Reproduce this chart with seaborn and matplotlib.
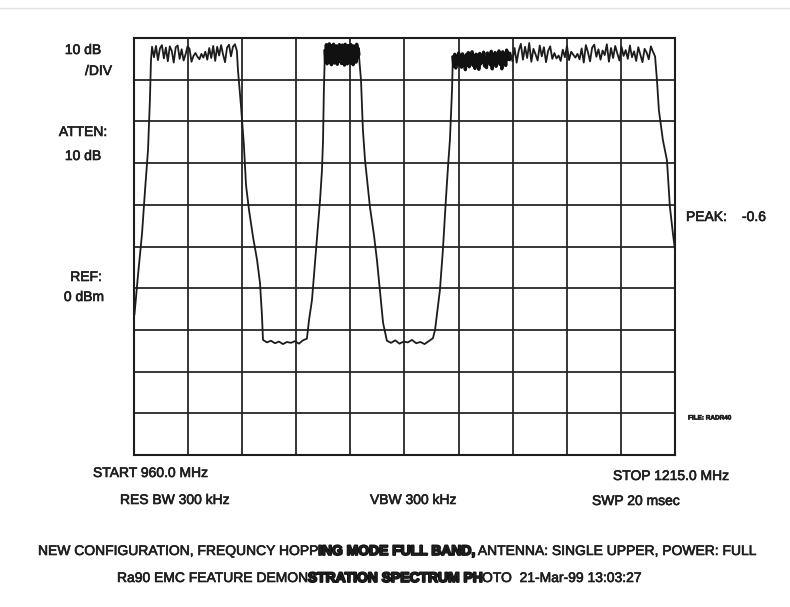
import numpy as np
import pandas as pd
import matplotlib
matplotlib.use("Agg")
import matplotlib.pyplot as plt
import matplotlib.patheffects as pe
import seaborn as sns
from matplotlib.lines import Line2D

# sweep settings (MHz, dBm)
start_mhz = 960.0
stop_mhz = 1215.0
ref_dbm = 0.0
db_per_div = 10

# edges of the hop bands: (freq MHz, level dBm)
rise1_f = [960.2, 961.9, 963.8, 965.2, 966.6, 967.5, 968.0]
rise1_db = [-66.4, -56.8, -46.8, -36.5, -26.9, -14.9, -5.3]
fall1_f = [1009.0, 1010.4, 1011.8, 1012.8, 1014.2, 1016.1, 1018.0, 1019.4, 1020.3]
fall1_db = [-7.7, -16.1, -25.7, -35.3, -41.2, -47.7, -53.2, -58.8, -66.4]
rise2_f = [1042.5, 1043.9, 1046.2, 1047.7, 1048.6, 1049.1, 1049.5]
rise2_db = [-67.6, -62.8, -48.4, -38.8, -31.7, -24.5, -12.5]
fall2_f = [1067.0, 1067.9, 1068.9, 1071.2, 1073.1, 1074.5, 1075.9, 1077.4]
fall2_db = [-10.1, -22.1, -29.3, -40.5, -47.2, -53.2, -60.4, -68.3]
rise3_f = [1101.9, 1104.2, 1105.6, 1107.0, 1108.0, 1108.9, 1109.9]
rise3_db = [-70.0, -60.4, -50.8, -38.8, -30.9, -24.5, -12.5]
fall3_f = [1206.5, 1207.4, 1209.3, 1211.2, 1212.6, 1214.0, 1215.0]
fall3_db = [-10.1, -17.3, -24.5, -29.3, -40.5, -46.8, -50.8]

# band tops and noise floors, sampled evenly between the given limits
band1_lim = (968.5, 1008.5)
band1_db = [-2.1, -4.6, -1.9, -5.3, -2.5, -1.7, -4.9, -2.3, -5.6, -2.0, -3.1, -5.9, -2.2, -1.8,
            -5.0, -2.7, -5.4, -3.9, -2.0, -2.6, -5.7, -4.3, -3.6, -4.5, -5.1, -3.8, -4.7, -3.3,
            -5.2, -2.4, -4.8, -1.9, -5.5, -2.1, -4.2, -1.7, -4.0, -5.8, -2.3, -1.6, -4.4, -2.1,
            -1.5, -3.1]
floor1_lim = (1020.8, 1041.5)
floor1_db = [-72.4, -73.0, -72.6, -73.2, -72.8, -73.4, -72.9, -73.1, -72.7, -73.3, -72.5, -72.1]
band2_lim = (1050.0, 1066.0)
band2_db = [-3.0, -5.8, -1.6, -6.2, -2.1, -5.5, -1.4, -5.9, -2.6, -6.4, -1.8, -4.9, -1.5, -6.0,
            -2.3, -5.2, -1.9, -6.3, -2.8, -5.7, -1.6, -4.6, -2.0, -6.1, -1.7, -5.4, -3.2, -6.5,
            -1.5, -5.0, -2.4, -6.2, -1.8, -5.6, -2.9, -6.0, -1.6, -5.3, -2.2, -6.4, -1.9, -5.1,
            -2.7, -5.8, -1.5, -4.8, -2.5, -4.0]
floor2_lim = (1079.2, 1100.9)
floor2_db = [-72.6, -73.1, -72.5, -73.3, -72.8, -73.0, -72.4, -73.2, -72.9, -73.4, -72.7, -72.0]
band3a_lim = (1110.3, 1137.0)
band3a_db = [-4.5, -6.8, -3.9, -7.2, -4.6, -5.9, -3.6, -6.5, -4.2, -7.0, -3.8, -5.4, -4.9, -7.6,
             -4.0, -6.1, -3.5, -6.9, -4.4, -5.6, -3.3, -6.6, -4.7, -7.3, -3.9, -5.8, -4.1, -7.5,
             -3.7, -6.2, -4.3, -5.5, -3.4, -6.7, -4.8, -7.1, -3.6, -5.7, -4.2, -6.4, -3.2, -7.4,
             -4.5, -6.0, -3.5, -6.8, -4.0, -5.3, -3.1, -6.3, -4.6, -7.4, -3.3, -5.9, -3.8, -6.6,
             -2.9, -5.0, -3.6, -5.2]
band3b_lim = (1137.4, 1205.6)
band3b_db = [-3.5, -5.6, -2.4, -5.9, -3.0, -1.4, -5.2, -2.1, -4.8, -1.2, -5.7, -2.6, -3.9, -5.4,
             -1.8, -4.4, -2.2, -5.8, -3.1, -2.0, -5.0, -3.6, -4.9, -4.2, -5.5, -2.8, -4.6, -1.9,
             -5.3, -3.3, -4.0, -4.7, -3.8, -5.1, -2.5, -5.9, -1.7, -3.4, -5.6, -2.3, -1.6, -4.5,
             -2.7, -5.2, -3.0, -4.1, -1.5, -5.7, -2.4, -4.8, -1.9, -3.7, -5.4, -2.1, -4.3, -2.9,
             -5.0, -1.8, -4.6, -3.2, -5.5, -2.2, -4.0, -5.8, -2.6, -3.5, -5.1, -2.0, -3.3, -4.4]


def band(lim, vals):
    return list(np.linspace(lim[0], lim[1], len(vals))), list(vals)


parts = [
    (rise1_f, rise1_db), band(band1_lim, band1_db), (fall1_f, fall1_db),
    band(floor1_lim, floor1_db), (rise2_f, rise2_db), band(band2_lim, band2_db),
    (fall2_f, fall2_db), band(floor2_lim, floor2_db), (rise3_f, rise3_db),
    band(band3a_lim, band3a_db), band(band3b_lim, band3b_db), (fall3_f, fall3_db),
]
freq = [f for p in parts for f in p[0]]
level = [v for p in parts for v in p[1]]
trace = pd.DataFrame({"freq": freq, "level": level})

# the busy hops smear into a thick band on the photo
busy = []
for lim, vals in [(band2_lim, band2_db), (band3a_lim, band3a_db)]:
    f, v = band(lim, vals)
    busy.append(pd.DataFrame({"freq": f, "level": v}))

sns.set_style("white")
plt.rcParams["font.family"] = ["Liberation Sans", "DejaVu Sans"]

fig = plt.figure(figsize=(7.9, 6.07), dpi=100)
W, H = 790, 607
ax = fig.add_axes([134 / W, 1 - 455 / H, 541 / W, 417 / H])

sns.lineplot(data=trace, x="freq", y="level", sort=False, estimator=None,
             color="#1c1c1c", lw=1.3, ax=ax)
for b in busy:
    sns.lineplot(data=b, x="freq", y="level", sort=False, estimator=None,
                 color="#111111", lw=2.4, ax=ax)

# 10 x 10 graticule
span = (stop_mhz - start_mhz) / 10
ax.set_xlim(start_mhz, stop_mhz)
ax.set_ylim(ref_dbm - 10 * db_per_div, ref_dbm)
ax.set_xticks([start_mhz + span * i for i in range(11)])
ax.set_yticks([ref_dbm - db_per_div * i for i in range(11)])
ax.grid(True, color="#262626", lw=1.3)
ax.tick_params(length=0, labelbottom=False, labelleft=False)
ax.set_xlabel("")
ax.set_ylabel("")
for s in ax.spines.values():
    s.set_color("#1c1c1c")
    s.set_linewidth(1.5)

# faint scanner edge at the top
fig.add_artist(Line2D([0, 1], [1 - 8 / H, 1 - 8 / H], color="#e2e2e2", lw=1))

ink = "#1e1e1e"
thin = [pe.withStroke(linewidth=0.45, foreground=ink)]
blot = [pe.withStroke(linewidth=1.3, foreground="#111111")]


def txt(x, y, s, ha="left", size=10, **kw):
    return fig.text(x / W, 1 - y / H, s, ha=ha, va="center", fontsize=size,
                    color=ink, path_effects=thin, **kw)


txt(83, 50, "10 dB", ha="center")
txt(112, 71, "/DIV", ha="right")
txt(83, 132, "ATTEN:", ha="center")
txt(83, 156, "10 dB", ha="center")
txt(86, 277, "REF:", ha="center")
txt(84, 297, "0 dBm", ha="center")
txt(686, 217, "PEAK:")
txt(742, 217, "-0.6")
txt(688, 418, "FILE: RADR40", size=4.6, fontweight="bold")
txt(93, 473, "START 960.0 MHz")
txt(613, 476, "STOP 1215.0 MHz")
txt(120, 500, "RES BW 300 kHz")
txt(370, 500, "VBW 300 kHz")
txt(592, 501, "SWP 20 msec")


def chain(x, y, pieces):
    t = txt(x, y, pieces[0][0])
    for s, heavy in pieces[1:]:
        t = plt.annotate(s, xy=(1, 0.5), xycoords=t, ha="left", va="center",
                         fontsize=10, color=ink,
                         fontweight="bold" if heavy else "normal",
                         path_effects=blot if heavy else thin)


chain(38, 551, [("NEW CONFIGURATION, FREQUNCY HOPP", False),
                ("ING MODE FULL BAND,", True),
                (" ANTENNA: SINGLE UPPER, POWER: FULL", False)])
chain(117, 578, [("Ra90 EMC FEATURE DEMON", False),
                 ("STRATION SPECTRUM PH", True),
                 ("OTO  21-Mar-99 13:03:27", False)])

fig.savefig("out.png", dpi=100)
